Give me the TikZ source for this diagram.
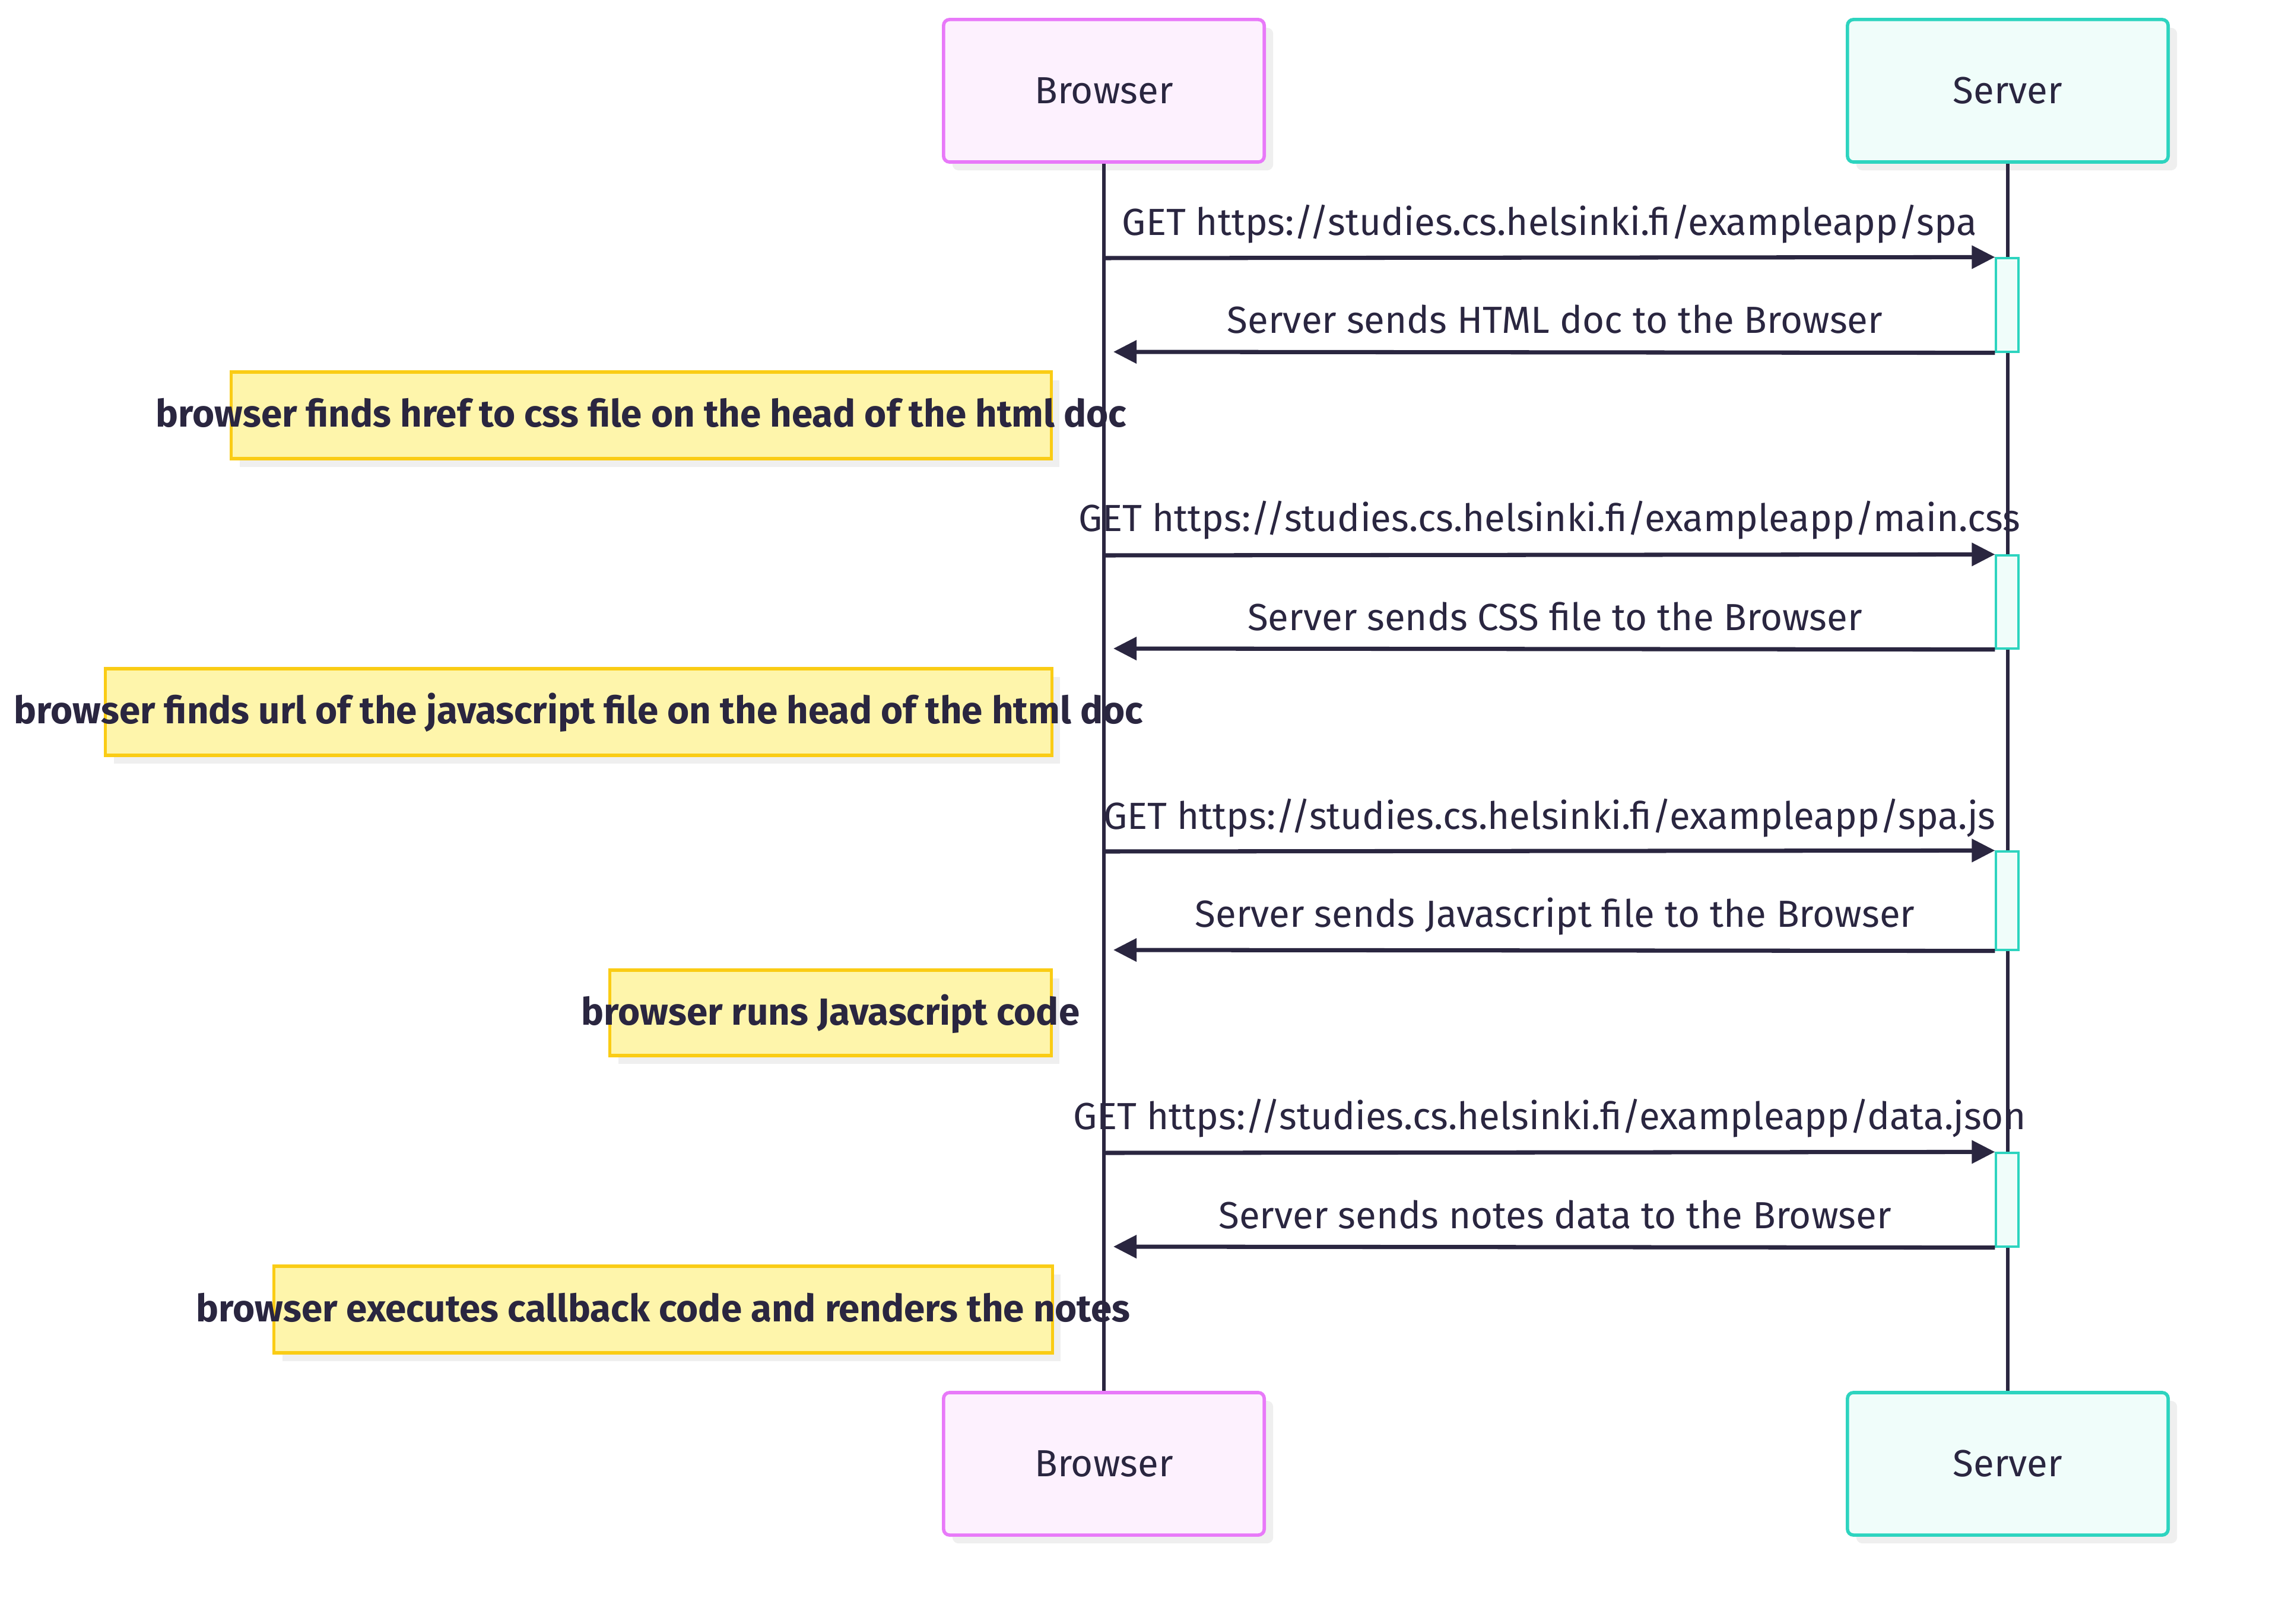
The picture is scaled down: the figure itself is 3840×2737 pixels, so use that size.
\documentclass[tikz,border=0pt]{standalone}
\usepackage{fontspec}
\setmainfont{Fira Sans}
\usetikzlibrary{arrows.meta,shadows}
\definecolor{ink}{HTML}{2A2640}
\definecolor{bstroke}{HTML}{E879F9}
\definecolor{bfill}{HTML}{FDF1FE}
\definecolor{sstroke}{HTML}{2DD4BF}
\definecolor{sfill}{HTML}{F0FDFA}
\definecolor{nstroke}{HTML}{FACC15}
\definecolor{nfill}{HTML}{FEF5AB}
\definecolor{shadowc}{HTML}{EFEFEF}
\newcommand\msgfont{\fontsize{18.1}{22}\selectfont}
\tikzset{
  actorbase/.style={rectangle, line width=1.6pt, rounded corners=0.1cm,
    minimum width=5.4cm, minimum height=2.4cm, inner sep=0pt,
    font=\msgfont, text=ink,
    drop shadow={shadow xshift=0.15cm, shadow yshift=-0.14cm, fill=shadowc, opacity=1}},
  actorB/.style={actorbase, draw=bstroke, fill=bfill},
  actorS/.style={actorbase, draw=sstroke, fill=sfill},
  actbox/.style={rectangle, draw=sstroke, fill=sfill, line width=0.9pt,
    minimum width=0.38cm, inner sep=0pt},
  notebox/.style={rectangle, draw=nstroke, fill=nfill, line width=1.5pt,
    minimum height=1.46cm, inner sep=0pt,
    drop shadow={shadow xshift=0.14cm, shadow yshift=-0.14cm, fill=shadowc, opacity=1}},
  notetext/.style={anchor=base, inner sep=0pt, font=\msgfont\bfseries, text=ink},
  msglabel/.style={anchor=base, inner sep=0pt, font=\msgfont, text=ink},
  lifeline/.style={draw=ink, line width=1.9pt},
  msg/.style={draw=ink, line width=2pt, -{Triangle[length=0.39cm, width=0.38cm]}},
}
\begin{document}
\begin{tikzpicture}[x=0.01cm, y=-0.01cm]
\useasboundingbox (0,0) rectangle (3840,2737);
\fill[white] (0,0) rectangle (3840,2737);

% actors
\node[actorB] (bt) at (1860,153) {Browser};
\node[actorS] (st) at (3383,153) {Server};
\node[actorB] (bb) at (1860,2467) {Browser};
\node[actorS] (sb) at (3383,2467) {Server};

% lifelines
\draw[lifeline] (bt.south) -- (bb.north);
\draw[lifeline] (st.south) -- (sb.north);

% activations
\node[actbox, minimum height=1.58cm] (a1) at (3382,514) {};
\node[actbox, minimum height=1.57cm] (a2) at (3382,1014.5) {};
\node[actbox, minimum height=1.66cm] (a3) at (3382,1518) {};
\node[actbox, minimum height=1.58cm] (a4) at (3382,2022) {};

% notes
\node[notebox, minimum width=13.81cm] (n1) at (1080.5,700) {};
\node[notetext] (n1t) at (1080.5,719) {browser finds href to css file on the head of the html doc};
\node[notebox, minimum width=15.94cm] (n2) at (975,1200) {};
\node[notetext] (n2t) at (975,1219) {browser finds url of the javascript file on the head of the html doc};
\node[notebox, minimum width=7.43cm, minimum height=1.44cm] (n3) at (1399.5,1707) {};
\node[notetext] (n3t) at (1399.5,1727) {browser runs Javascript code};
\node[notebox, minimum width=13.11cm] (n4) at (1117.5,2207) {};
\node[notetext] (n4t) at (1117.5,2227) {browser executes callback code and renders the notes};

% message endpoints on the browser lifeline
\coordinate (f1) at (1860,435);
\coordinate (r1) at (1876,593);
\coordinate (f2) at (1860,936);
\coordinate (r2) at (1876,1093);
\coordinate (f3) at (1860,1435);
\coordinate (r3) at (1876,1601);
\coordinate (f4) at (1860,1943);
\coordinate (r4) at (1876,2101);

% messages
\draw[msg] (f1) -- (a1.north west);
\draw[msg] (a1.south west) -- (r1);
\draw[msg] (f2) -- (a2.north west);
\draw[msg] (a2.south west) -- (r2);
\draw[msg] (f3) -- (a3.north west);
\draw[msg] (a3.south west) -- (r3);
\draw[msg] (f4) -- (a4.north west);
\draw[msg] (a4.south west) -- (r4);

% labels
\node[msglabel] (l1) at (2611,397) {GET https://studies.cs.helsinki.fi/exampleapp/spa};
\node[msglabel] (l2) at (2620,562) {Server sends HTML doc to the Browser};
\node[msglabel] (l3) at (2611,895) {GET https://studies.cs.helsinki.fi/exampleapp/main.css};
\node[msglabel] (l4) at (2620,1062) {Server sends CSS file to the Browser};
\node[msglabel] (l5) at (2611,1397) {GET https://studies.cs.helsinki.fi/exampleapp/spa.js};
\node[msglabel] (l6) at (2620,1562) {Server sends Javascript file to the Browser};
\node[msglabel] (l7) at (2611,1903) {GET https://studies.cs.helsinki.fi/exampleapp/data.json};
\node[msglabel] (l8) at (2620,2070) {Server sends notes data to the Browser};
\end{tikzpicture}
\end{document}
